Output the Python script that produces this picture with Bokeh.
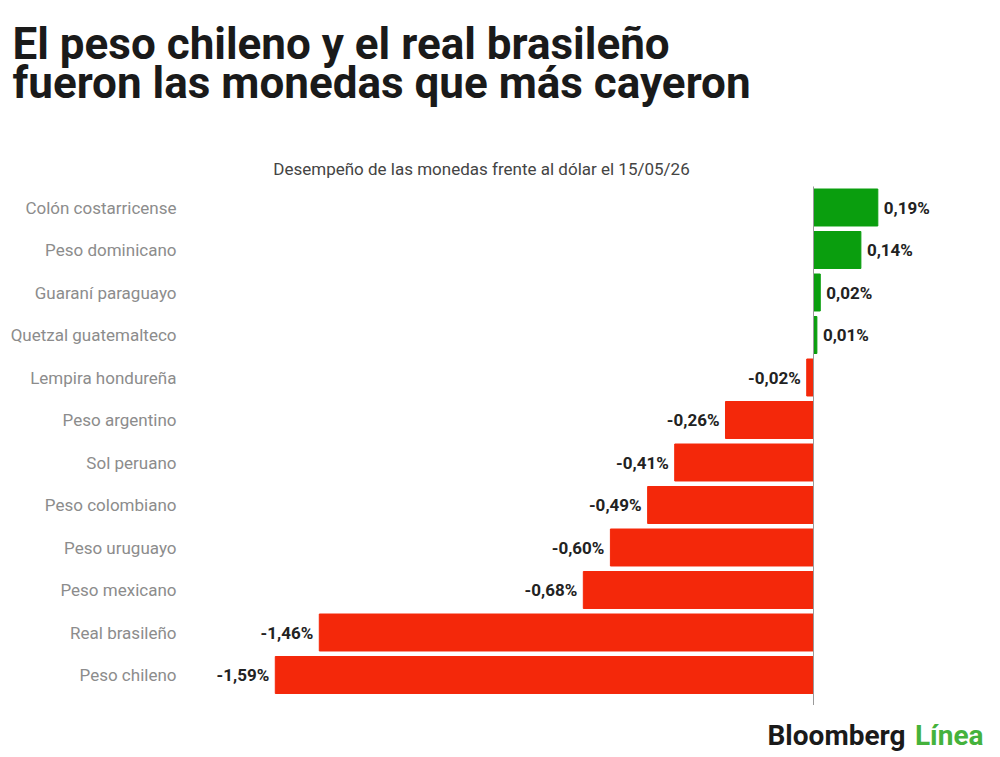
from bokeh.plotting import figure
from bokeh.models import Range1d, Label, ColumnDataSource
from bokeh.core.properties import value
from bokeh.embed import file_html
from bokeh.resources import INLINE

# ---- data ----
currencies = ["Colón costarricense", "Peso dominicano", "Guaraní paraguayo",
              "Quetzal guatemalteco", "Lempira hondureña", "Peso argentino",
              "Sol peruano", "Peso colombiano", "Peso uruguayo", "Peso mexicano",
              "Real brasileño", "Peso chileno"]
changes = [0.19, 0.14, 0.02, 0.01, -0.02, -0.26, -0.41, -0.49, -0.60, -0.68, -1.46, -1.59]
value_labels = ["0,19%", "0,14%", "0,02%", "0,01%", "-0,02%", "-0,26%", "-0,41%",
                "-0,49%", "-0,60%", "-0,68%", "-1,46%", "-1,59%"]
title_lines = ["El peso chileno y el real brasileño",
               "fueron las monedas que más cayeron"]
subtitle = "Desempeño de las monedas frente al dólar el 15/05/26"

GREEN = "#0a9e0e"
RED = "#f4280a"

W, H = 1000, 757
PX_PER_UNIT = 338.5      # pixels per 1 percentage point
ZERO_X = 813             # canvas x of the zero line
ROW_PX = 42.5            # pixels per row
ROW0_Y = 207             # canvas y of first row centre

rows = list(range(len(currencies)))
colors = [GREEN if v >= 0 else RED for v in changes]

pos = [i for i, v in enumerate(changes) if v >= 0]
neg = [i for i, v in enumerate(changes) if v < 0]
bars = ColumnDataSource(dict(y=rows, right=changes, color=colors))
pos_src = ColumnDataSource(dict(x=[changes[i] for i in pos], y=[rows[i] for i in pos],
                                t=[value_labels[i] for i in pos]))
neg_src = ColumnDataSource(dict(x=[changes[i] for i in neg], y=[rows[i] for i in neg],
                                t=[value_labels[i] for i in neg]))
cat_x = -(ZERO_X - 176) / PX_PER_UNIT
cat_src = ColumnDataSource(dict(x=[cat_x] * len(rows), y=rows, t=currencies))

x_range = Range1d(-ZERO_X / PX_PER_UNIT, (W - ZERO_X) / PX_PER_UNIT)
y_range = Range1d((H - ROW0_Y) / ROW_PX, -ROW0_Y / ROW_PX)

p = figure(width=W, height=H, output_backend="svg", toolbar_location=None,
           x_range=x_range, y_range=y_range, min_border=0,
           background_fill_color="white", border_fill_color="white",
           outline_line_color=None)
p.xaxis.visible = False
p.yaxis.visible = False
p.grid.visible = False

p.hbar(y="y", left=0, right="right", height=0.87, color="color", source=bars)

# zero line spanning the plotted rows
p.segment(x0=0, x1=0, y0=rows[0] - 0.494, y1=rows[-1] + 0.706,
          line_color="#9a9a9a", line_width=1)

common = dict(text_font=value("Roboto"), text_font_size="17px", text_color="#222222",
              text_font_style="bold", text_baseline="middle")
p.text(x="x", y="y", text="t", source=pos_src, x_offset=6, text_align="left", **common)
p.text(x="x", y="y", text="t", source=neg_src, x_offset=-6, text_align="right", **common)

p.text(x="x", y="y", text="t", source=cat_src, text_align="right", text_baseline="middle",
       text_font=value("Roboto"), text_font_size="17px", text_color="#8c8c8c")


def baseline_y(page_y, size):
    # Label screen y is measured from the bottom; small correction for text metrics
    return H - page_y + 0.4 * size


for txt, by in zip(title_lines, [61, 100]):
    p.add_layout(Label(x=12, y=baseline_y(by, 44), x_units="screen", y_units="screen",
                       text=txt, text_font="Roboto", text_font_style="bold",
                       text_font_size="44px", text_color="#1a1a1a",
                       text_baseline="alphabetic"))
p.add_layout(Label(x=481, y=baseline_y(175, 17), x_units="screen", y_units="screen",
                   text=subtitle, text_font="Roboto", text_font_size="17px",
                   text_color="#444444", text_align="center", text_baseline="alphabetic"))
p.add_layout(Label(x=905, y=baseline_y(746, 28), x_units="screen", y_units="screen",
                   text="Bloomberg", text_font="Roboto", text_font_style="bold",
                   text_font_size="28px", text_color="#1a1a1a", text_align="right",
                   text_baseline="alphabetic"))
p.add_layout(Label(x=983, y=baseline_y(746, 28), x_units="screen", y_units="screen",
                   text="Línea", text_font="Roboto", text_font_style="bold",
                   text_font_size="28px", text_color="#45b23c", text_align="right",
                   text_baseline="alphabetic"))

open("out.html", "w").write(file_html(p, INLINE))
